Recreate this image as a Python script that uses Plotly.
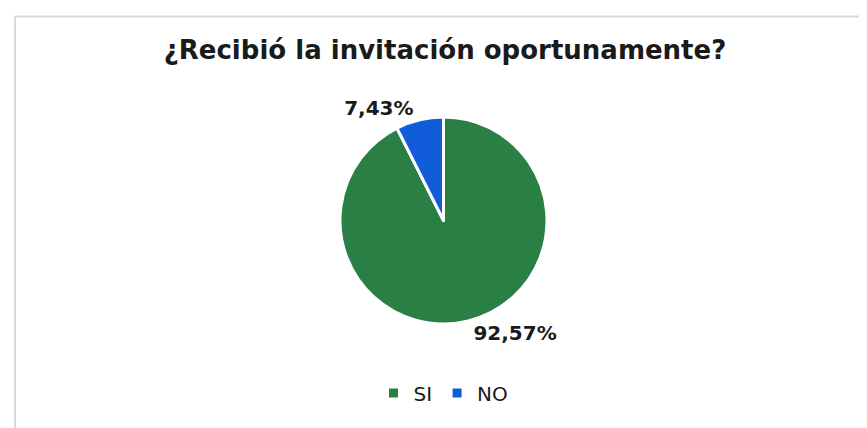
import plotly.graph_objects as go

labels = ["SI", "NO"]
values = [92.57, 7.43]
colors = ["#2A8044", "#105CD9"]
title_text = "¿Recibió la invitación oportunamente?"

W, H = 867, 428
cx, cy, r = 435.5, 212.5, 103.5

fig = go.Figure(go.Pie(
    labels=labels,
    values=values,
    sort=False,
    direction="clockwise",
    rotation=0,
    marker=dict(colors=colors, line=dict(color="white", width=3)),
    texttemplate="%{percent:.2%}",
    textposition="outside",
    textfont=dict(family="DejaVu Sans", size=20, color="#1a1a1a", weight="bold"),
    hoverinfo="label+percent",
    domain=dict(x=[(cx - r) / W, (cx + r) / W], y=[(H - cy - r) / H, (H - cy + r) / H]),
))

fig.update_layout(
    width=W, height=H,
    margin=dict(l=0, r=0, t=0, b=0),
    paper_bgcolor="white",
    separators=",.",
    title=dict(text="<b>" + title_text + "</b>", x=437 / W, xanchor="center", y=1 - 42 / H, yanchor="middle",
               font=dict(family="DejaVu Sans", size=26, color="#1a1a1a")),
    legend=dict(orientation="h", x=cx / W, xanchor="center", y=1 - 385 / H, yanchor="middle",
                font=dict(family="DejaVu Sans", size=20, color="#1a1a1a")),
    shapes=[
        dict(type="line", xref="paper", yref="paper", x0=7 / W, x1=1, y0=1 - 8.5 / H, y1=1 - 8.5 / H,
             line=dict(color="#D9D9D9", width=2)),
        dict(type="line", xref="paper", yref="paper", x0=7 / W, x1=7 / W, y0=0, y1=1 - 8.5 / H,
             line=dict(color="#D9D9D9", width=2)),
    ],
)

fig.write_html("out.html")
